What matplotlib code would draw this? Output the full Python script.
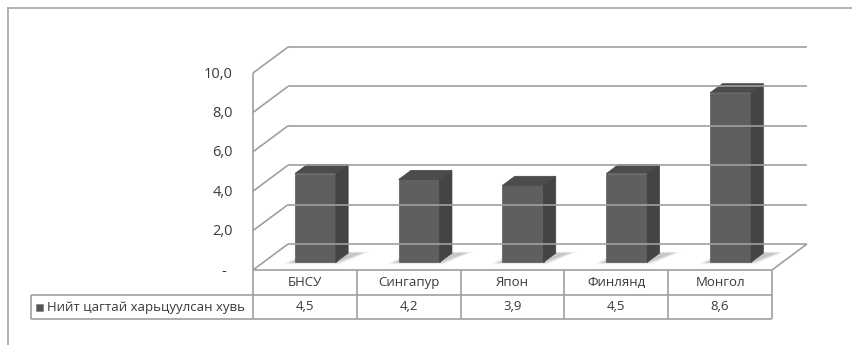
import matplotlib
matplotlib.use('Agg')
import matplotlib.pyplot as plt
import matplotlib.transforms as mtransforms
from matplotlib.patches import Polygon
from matplotlib.lines import Line2D
import numpy as np

plt.rcParams['font.family'] = ['Open Sans', 'DejaVu Sans']

# Data
categories = ['БНСУ', 'Сингапур', 'Япон', 'Финлянд', 'Монгол']
values = [4.5, 4.2, 3.9, 4.5, 8.6]
value_labels = ['4,5', '4,2', '3,9', '4,5', '8,6']
series_name = 'Нийт цагтай харьцуулсан хувь'
y_ticks = [0, 2, 4, 6, 8, 10]
y_tick_labels = ['-', '2,0', '4,0', '6,0', '8,0', '10,0']

W, H = 853, 345
fig = plt.figure(figsize=(W / 100, H / 100), dpi=100)
ax = fig.add_axes([253 / W, (H - 270) / H, 519 / W, 197 / H])
ax.set_xlim(-0.5, len(categories) - 0.5)
ax.set_ylim(0, 10)
ax.axis('off')

DEPTH = np.array([35.0, 26.0])  # pixel shift of the back wall
ident = mtransforms.IdentityTransform()
grid_c = '#a0a0a0'
text_c = '#3a3a3a'


def pt(x, v, d=0.0, dy=0.0):
    # data point -> display pixels, pushed back by depth d (0 front, 1 back)
    p = ax.transData.transform((x, v))
    return p + DEPTH * d + np.array([0.0, dy])


def line(p0, p1, color=grid_c, lw=1.2):
    fig.add_artist(Line2D([p0[0], p1[0]], [p0[1], p1[1]], transform=ident,
                          color=color, lw=lw, solid_capstyle='butt'))


def poly(pts, **kw):
    fig.add_artist(Polygon(np.array(pts), closed=True, transform=ident, **kw))


xl, xr = -0.5, len(categories) - 0.5

# outer chart border (cut by the image edge)
fig.add_artist(Line2D([8, W], [H - 8, H - 8], transform=ident, color='#a6a6a6', lw=1.2))
fig.add_artist(Line2D([8, 8], [H - 8, 0], transform=ident, color='#a6a6a6', lw=1.2))

# back wall gridlines and side wall diagonals
for v in y_ticks:
    line(pt(xl, v, 1), pt(xr, v, 1))
    line(pt(xl, v, 0), pt(xl, v, 1))
line(pt(xl, 0), pt(xl, 10))
line(pt(xr, 0, 0), pt(xr, 0, 1))

# bars
bw = 0.395
d0, d1 = 0.30, 0.65
for i, v in enumerate(values):
    x0, x1 = i - bw / 2, i + bw / 2
    # soft floor shadow, leaning to the right-back
    for g, a in zip([5, 4, 3, 2, 1], [0.04, 0.05, 0.07, 0.09, 0.12]):
        sx = g * 0.014
        poly([pt(x0 - sx - 0.02, 0, d0 - 0.015 * g), pt(x1 + sx, 0, d0 - 0.015 * g),
              pt(x1 + sx + 0.12, 0, d1 + 0.01 * g), pt(x0 - sx + 0.04, 0, d1 + 0.01 * g)],
             facecolor='#555555', alpha=a, edgecolor='none')
    front = [pt(x0, 0, d0), pt(x1, 0, d0), pt(x1, v, d0), pt(x0, v, d0)]
    side = [pt(x1, 0, d0), pt(x1, 0, d1), pt(x1, v, d1), pt(x1, v, d0)]
    top = [pt(x0, v, d0), pt(x1, v, d0), pt(x1, v, d1), pt(x0, v, d1)]
    poly(front, facecolor='#5f5f5f', edgecolor='#575757', lw=0.5)
    poly(side, facecolor='#444444', edgecolor='#404040', lw=0.5)
    poly(top, facecolor='#4c4c4c', edgecolor='#484848', lw=0.5)

# y tick labels
for v, lab in zip(y_ticks, y_tick_labels):
    p = pt(xl, v)
    if lab == '-':
        fig.text(p[0] - 29, p[1] - 2, lab, transform=ident, ha='center', va='center',
                 fontsize=10.5, color=text_c)
    else:
        fig.text(p[0] - 20, p[1] - 1, lab, transform=ident, ha='right', va='center',
                 fontsize=10.5, color=text_c)

# data table
row1, row2 = -25, -49
tab_left = 31
line(pt(xl, 0), pt(xr, 0))
for j in range(len(categories) + 1):
    line(pt(xl + j, 0), pt(xl + j, 0, dy=row2))
for dy in (row1, row2):
    p = pt(xr, 0, dy=dy)
    line((tab_left, p[1]), p)
line((tab_left, pt(xl, 0, dy=row1)[1]), (tab_left, pt(xl, 0, dy=row2)[1]))

for i, (c, lab) in enumerate(zip(categories, value_labels)):
    p1 = pt(i, 0, dy=row1 / 2)
    p2 = pt(i, 0, dy=(row1 + row2) / 2)
    fig.text(p1[0], p1[1], c, transform=ident, ha='center', va='center',
             fontsize=9.5, color=text_c)
    fig.text(p2[0], p2[1], lab, transform=ident, ha='center', va='center',
             fontsize=9.5, color=text_c)

# legend key + series name
ym = pt(xl, 0, dy=(row1 + row2) / 2)[1]
poly([(36, ym - 3.5), (43, ym - 3.5), (43, ym + 3.5), (36, ym + 3.5)],
     facecolor='#555555', edgecolor='#888888', lw=0.6)
fig.text(47, ym, series_name, transform=ident, ha='left', va='center',
         fontsize=9.5, color=text_c)

fig.savefig('out.png', dpi=100)
